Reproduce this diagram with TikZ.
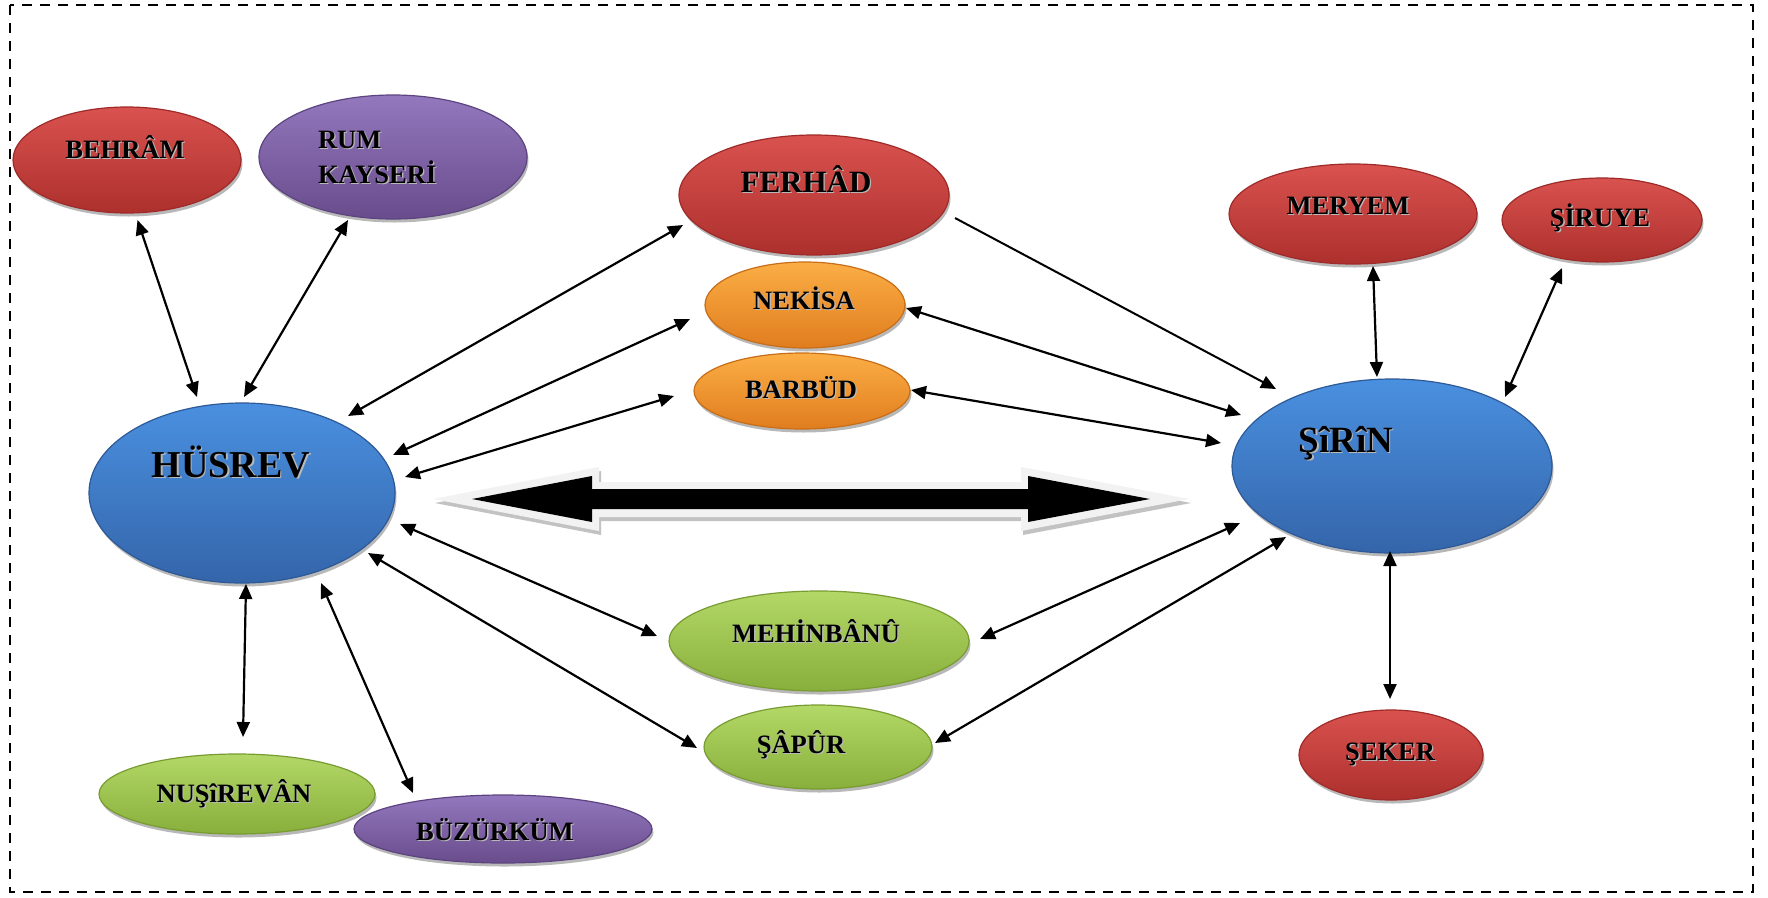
\documentclass[tikz,border=0pt]{standalone}
\usepackage{fontspec}
\setmainfont{Liberation Serif}
\usetikzlibrary{shapes.geometric,arrows.meta,calc,shadows}

\definecolor{redtop}{HTML}{D9524F}
\definecolor{redmid}{HTML}{C43D3A}
\definecolor{redbot}{HTML}{AD302D}
\definecolor{redrim}{HTML}{9E2B29}
\definecolor{purtop}{HTML}{9478BE}
\definecolor{purmid}{HTML}{7D5FA6}
\definecolor{purbot}{HTML}{684C8C}
\definecolor{purrim}{HTML}{5D4480}
\definecolor{blutop}{HTML}{4A90E0}
\definecolor{blumid}{HTML}{3E7DC8}
\definecolor{blubot}{HTML}{3465AA}
\definecolor{blurim}{HTML}{2D5996}
\definecolor{orntop}{HTML}{FBAE45}
\definecolor{ornmid}{HTML}{F2922C}
\definecolor{ornbot}{HTML}{E07D1E}
\definecolor{ornrim}{HTML}{C86E18}
\definecolor{grntop}{HTML}{B3D867}
\definecolor{grnmid}{HTML}{9CC24C}
\definecolor{grnbot}{HTML}{88AE3B}
\definecolor{grnrim}{HTML}{789C32}
\definecolor{arrowhalo}{HTML}{F2F2F2}
\definecolor{arrowshade}{HTML}{C2C2C2}

% name text with a soft offset shadow
\newcommand\shd[1]{\makebox[0pt][l]{\hspace{1.3pt}\raisebox{-1.3pt}{\color{black!28}#1}}#1}

\tikzset{
  bubble/.style={ellipse, inner sep=0pt, outer sep=0pt, line width=1.2pt,
    drop shadow={shadow xshift=1.5pt, shadow yshift=-3.5pt, opacity=.28, fill=black}},
  redb/.style={bubble, top color=redtop, middle color=redmid, bottom color=redbot, draw=redrim},
  purb/.style={bubble, top color=purtop, middle color=purmid, bottom color=purbot, draw=purrim},
  blub/.style={bubble, top color=blutop, middle color=blumid, bottom color=blubot, draw=blurim},
  ornb/.style={bubble, top color=orntop, middle color=ornmid, bottom color=ornbot, draw=ornrim},
  grnb/.style={bubble, top color=grntop, middle color=grnmid, bottom color=grnbot, draw=grnrim},
  nm/.style={anchor=base, inner sep=0pt, outer sep=0pt, text=black,
    font=\bfseries\fontsize{26.5}{30}\selectfont},
  nmwest/.style={nm, anchor=base west},
  nmbig/.style={nm, font=\bfseries\fontsize{38}{42}\selectfont},
  nmsirin/.style={nm, font=\bfseries\fontsize{37}{41}\selectfont},
  nmmid/.style={nm, font=\bfseries\fontsize{31}{35}\selectfont},
  tip/.tip={Triangle[length=15pt,width=13pt]},
  link/.style={line width=2.2pt, tip-tip},
  oneway/.style={line width=2pt, -tip},
  frame/.style={line width=2.5pt, dash pattern=on 10pt off 8pt},
}

\begin{document}
\begin{tikzpicture}[x=1pt,y=-1pt]
\useasboundingbox (0,0) rectangle (1768,897);
\fill[white] (0,0) rectangle (1768,897);
\draw[frame] (10,5) rectangle (1753,892);

% Hüsrev's side
\node[redb, minimum width=228pt, minimum height=106pt] (behram) at (127,160) {};
\node[nm] (behramtxt) at ($(behram)+(-2,-2)$) {\shd{BEHRÂM}};
\node[purb, minimum width=268pt, minimum height=124pt] (rum) at (393,157) {};
\node[nmwest] (rumtxta) at ($(rum)+(-75,-9)$) {\shd{RUM}};
\node[nmwest] (rumtxtb) at ($(rum)+(-75,26)$) {\shd{KAYSERİ}};
\node[blub, minimum width=306pt, minimum height=180pt] (husrev) at (242,493) {};
\node[nmbig] (husrevtxt) at ($(husrev)+(-11,-16)$) {\shd{HÜSREV}};
\node[grnb, minimum width=276pt, minimum height=80pt] (nusirevan) at (237,794) {};
\node[nm] (nusirevantxt) at ($(nusirevan)+(-3,8)$) {\shd{NUŞîREVÂN}};
\node[purb, minimum width=298pt, minimum height=68pt] (buzurkum) at (503,829) {};
\node[nm] (buzurkumtxt) at ($(buzurkum)+(-8,11)$) {\shd{BÜZÜRKÜM}};

% middle column
\node[redb, minimum width=270pt, minimum height=120pt] (ferhad) at (814,195) {};
\node[nmmid] (ferhadtxt) at ($(ferhad)+(-8,-3)$) {\shd{FERHÂD}};
\node[ornb, minimum width=200pt, minimum height=86pt] (nekisa) at (805,305) {};
\node[nm] (nekisatxt) at ($(nekisa)+(-1,4)$) {\shd{NEKİSA}};
\node[ornb, minimum width=216pt, minimum height=76pt] (barbud) at (802,391) {};
\node[nm] (barbudtxt) at ($(barbud)+(-1,7)$) {\shd{BARBÜD}};
\node[grnb, minimum width=300pt, minimum height=100pt] (mehin) at (819,641) {};
\node[nm] (mehintxt) at ($(mehin)+(-3,1)$) {\shd{MEHİNBÂNÛ}};
\node[grnb, minimum width=228pt, minimum height=84pt] (sapur) at (818,747) {};
\node[nm] (sapurtxt) at ($(sapur)+(-17,6)$) {\shd{ŞÂPÛR}};

% Şirin's side
\node[redb, minimum width=248pt, minimum height=100pt] (meryem) at (1353,214) {};
\node[nm] (meryemtxt) at ($(meryem)+(-5,0)$) {\shd{MERYEM}};
\node[redb, minimum width=200pt, minimum height=84pt] (siruye) at (1602,220) {};
\node[nm] (siruyetxt) at ($(siruye)+(-2,6)$) {\shd{ŞİRUYE}};
\node[blub, minimum width=320pt, minimum height=174pt] (sirin) at (1392,466) {};
\node[nmsirin] (sirintxt) at ($(sirin)+(-46,-14)$) {\shd{ŞîRîN}};
\node[redb, minimum width=184pt, minimum height=90pt] (seker) at (1391,755) {};
\node[nm] (sekertxt) at ($(seker)+(-1,5)$) {\shd{ŞEKER}};

% wide double arrow between the two lovers
\fill[arrowshade] (435,503) -- (601,471) -- (601,486) -- (1023,486) -- (1023,471) -- (1191,503)
  -- (1023,535) -- (1023,521) -- (601,521) -- (601,535) -- cycle;
\fill[arrowhalo] (433,499) -- (599,467) -- (599,482) -- (1021,482) -- (1021,467) -- (1189,499)
  -- (1021,531) -- (1021,517) -- (599,517) -- (599,531) -- cycle;
\fill[black] (472,499) -- (592,476) -- (592,489) -- (1028,489) -- (1028,476) -- (1150,499)
  -- (1028,522) -- (1028,509) -- (592,509) -- (592,522) -- cycle;

% connectors around Hüsrev
\draw[link] ($(behram)+(10.5,60)$) -- ($(husrev)+(-45,-96)$);
\draw[link] ($(rum)+(-45,63)$) -- ($(husrev)+(2,-96)$);
\draw[link] ($(husrev)+(106,-77)$) -- ($(ferhad)+(-131,30)$);
\draw[link] ($(husrev)+(151,-38)$) -- ($(nekisa)+(-115,14)$);
\draw[link] ($(husrev)+(163,-16)$) -- ($(barbud)+(-128,5)$);
\draw[link] ($(husrev)+(158,31)$) -- ($(mehin)+(-162,-5)$);
\draw[link] ($(husrev)+(126,60)$) -- ($(sapur)+(-121,1)$);
\draw[link] ($(husrev)+(4,91)$) -- ($(nusirevan)+(6,-57)$);
\draw[link] ($(husrev)+(79,90)$) -- ($(buzurkum)+(-90,-36)$);

% connectors around Şirin
\draw[oneway] ($(ferhad)+(141,23)$) -- ($(sirin)+(-116,-77)$);
\draw[link] ($(nekisa)+(101,3)$) -- ($(sirin)+(-151,-51)$);
\draw[link] ($(barbud)+(109,-1)$) -- ($(sirin)+(-171,-23)$);
\draw[link] ($(sirin)+(-152,57)$) -- ($(mehin)+(161,-2)$);
\draw[link] ($(sirin)+(-106,71)$) -- ($(sapur)+(117,-4)$);
\draw[link] ($(meryem)+(20,52)$) -- ($(sirin)+(-15,-89)$);
\draw[link] ($(siruye)+(-40,48)$) -- ($(sirin)+(113,-69)$);
\draw[link] ($(sirin)+(-2,85)$) -- ($(seker)+(-1,-56)$);
\end{tikzpicture}
\end{document}
